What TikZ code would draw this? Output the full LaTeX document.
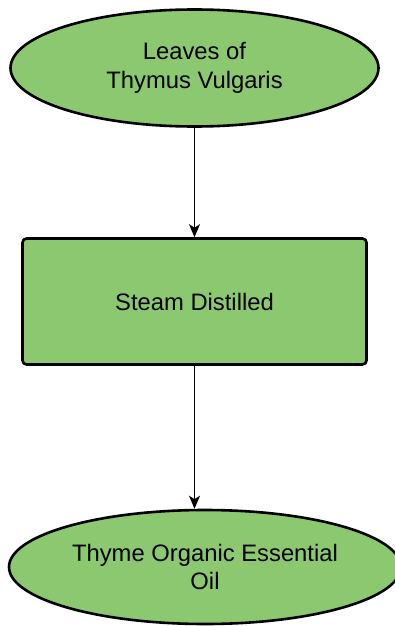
\documentclass[tikz,border=0pt]{standalone}
\usepackage{fontspec}
\setmainfont{Liberation Sans}
\usepackage{xcolor}
\usepackage{tikz}
\usetikzlibrary{shapes}
\usetikzlibrary{arrows.meta}
\definecolor{leafgreen}{RGB}{140,200,112}
\tikzset{
	term node/.style={ellipse,draw,fill=leafgreen,line width=2.6pt,inner sep=0pt,align=center,
		font=\fontsize{23.8}{28.5}\selectfont},
	proc node/.style={rectangle,draw,fill=leafgreen,line width=2.6pt,rounded corners=4pt,inner sep=0pt,
		align=center,font=\fontsize{23.8}{28.5}\selectfont}
}

\begin{document}
\begin{tikzpicture}[->,>={Stealth[length=13pt,width=11pt,inset=3.5pt]},x=1pt,y=-1pt]
            \useasboundingbox (0,0) rectangle (394,626);
            \node [term node,minimum width=368pt,minimum height=117pt] (1) at (194.5,68) {Leaves of\\Thymus Vulgaris};
            \node [proc node,minimum width=344pt,minimum height=126pt] (2) at (194.5,301.5) {Steam Distilled};
            \node [term node,minimum width=392pt,minimum height=114pt] (3) at (205,567) {Thyme Organic Essential\\Oil};
            \draw [line width=1.8pt] (1.south) -- (2.north);
            \draw [line width=1.8pt] (2.south) -- (2.south |- 3.north);
          \end{tikzpicture}
\end{document}
